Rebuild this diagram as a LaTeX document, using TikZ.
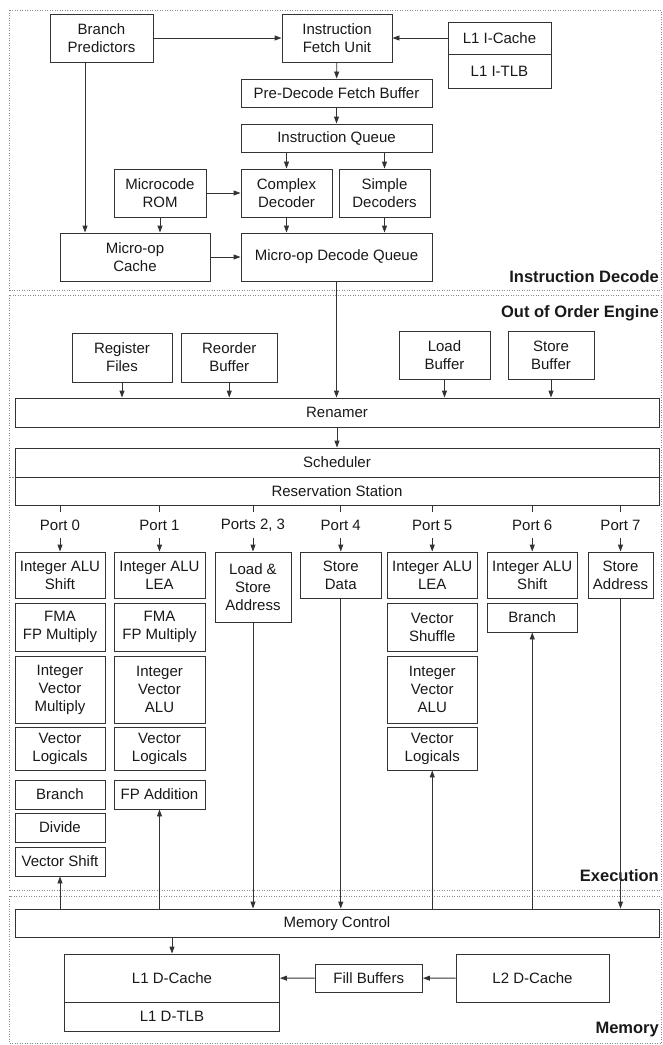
\documentclass[tikz,border=0pt]{standalone}
\usepackage{fontspec}
\setmainfont{Liberation Sans}
\usetikzlibrary{arrows.meta}
\tikzset{
 blk/.style={draw=black!80, line width=0.9pt, fill=white, inner sep=0pt, align=center, font=\fontsize{15}{18}\selectfont, text=black!90},
 arr/.style={draw=black!80, line width=0.9pt, -{Triangle[length=7pt,width=5pt]}},
 ln/.style={draw=black!80, line width=0.9pt},
 frame/.style={draw=black!45, line width=0.8pt, dash pattern=on 1pt off 1.5pt},
 sect/.style={anchor=east, inner sep=0pt, font=\fontsize{16.5}{18}\selectfont\bfseries, text=black!90},
 portlbl/.style={inner sep=0pt, minimum height=26pt, font=\fontsize{15}{18}\selectfont, text=black!90},
}
\newcommand\bx[6]{\node[blk, minimum width={(#4-(#2))*1pt}, minimum height={(#5-(#3))*1pt}] (#1) at ({(#2+#4)/2},{(#3+#5)/2}) {#6};}
\begin{document}
\begin{tikzpicture}[x=1pt,y=-1pt]
\useasboundingbox (0,0) rectangle (662,1045);
% section frames
\draw[frame] (9.5,10) rectangle (661,290.5);
\draw[frame] (9.5,295) rectangle (661,477);
\draw[frame] (9.5,477) rectangle (661,890);
\draw[frame] (9.5,896) rectangle (661,1043.5);
\node[sect] (tID) at (659,277) {Instruction Decode};
\node[sect] (tOO) at (659,313) {Out of Order Engine};
\node[sect] (tEX) at (659,876) {Execution};
\node[sect] (tME) at (659,1030) {Memory};
% instruction decode
\bx{bp}{50}{14}{153}{62}{Branch\\Predictors}
\bx{ifu}{282}{14}{392}{62}{Instruction\\Fetch Unit}
\bx{l1i}{448}{22}{551}{54}{L1 I-Cache}
\bx{l1itlb}{448}{54}{551}{88}{L1 I-TLB}
\bx{pdfb}{241}{79}{432}{107}{Pre-Decode Fetch Buffer}
\bx{iq}{241}{124}{432}{152}{Instruction Queue}
\bx{mrom}{114}{169}{206}{217}{Microcode\\ROM}
\bx{cdec}{241}{169}{332}{217}{Complex\\Decoder}
\bx{sdec}{339}{169}{430}{217}{Simple\\Decoders}
\bx{uopc}{60}{233}{210}{281}{Micro-op\\Cache}
\bx{modq}{241}{233}{432}{281}{Micro-op Decode Queue}
\draw[arr] (bp) -- (ifu);
\draw[arr] (l1i) -- (ifu);
\draw[arr] (ifu) -- (pdfb);
\draw[arr] (pdfb) -- (iq);
\draw[arr] (iq.south -| cdec) -- (cdec);
\draw[arr] (iq.south -| sdec) -- (sdec);
\draw[arr] (mrom) -- (cdec);
\draw[arr] (mrom) -- (mrom.south |- uopc.north);
\draw[arr] ([xshift=-16.5pt]bp.south) -- ([xshift=-16.5pt]bp.south |- uopc.north);
\draw[arr] (cdec) -- (cdec |- modq.north);
\draw[arr] (sdec) -- (sdec |- modq.north);
\draw[arr] (uopc) -- (modq);
% out of order engine
\bx{rf}{72}{333}{172}{382}{Register\\Files}
\bx{rob}{181.5}{333}{277}{382}{Reorder\\Buffer}
\bx{lb}{399}{331}{490}{379}{Load\\Buffer}
\bx{sb}{508}{331}{594}{379}{Store\\Buffer}
\bx{ren}{15}{398}{659}{427}{Renamer}
\bx{sched}{15}{448}{659}{477}{Scheduler}
\bx{rs}{15}{477}{659}{505.5}{Reservation Station}
\draw[arr] (modq) -- (modq |- ren.north);
\draw[arr] (rf) -- (rf |- ren.north);
\draw[arr] (rob) -- (rob |- ren.north);
\draw[arr] (lb) -- (lb |- ren.north);
\draw[arr] (sb) -- (sb |- ren.north);
\draw[arr] (ren) -- (ren.south |- sched.north);
% execution units
\bx{e0a}{15}{552}{105}{598}{Integer ALU\\Shift}
\bx{e0b}{15}{603}{105}{651}{FMA\\FP Multiply}
\bx{e0c}{15}{656}{105}{723}{Integer\\Vector\\Multiply}
\bx{e0d}{15}{727}{105}{770}{Vector\\Logicals}
\bx{e0e}{15}{780}{105}{809}{Branch}
\bx{e0f}{15}{813}{105}{842}{Divide}
\bx{e0g}{15}{847}{105}{876}{Vector Shift}
\bx{e1a}{114}{552}{205}{598}{Integer ALU\\LEA}
\bx{e1b}{114}{603}{205}{651}{FMA\\FP Multiply}
\bx{e1c}{114}{656}{205}{723}{Integer\\Vector\\ALU}
\bx{e1d}{114}{727}{205}{770}{Vector\\Logicals}
\bx{e1e}{114}{780}{205}{809}{FP Addition}
\bx{e23}{215}{552}{291}{622}{Load \&\\Store\\Address}
\bx{e4}{300.5}{552}{381}{598}{Store\\Data}
\bx{e5a}{387}{552}{477.5}{598}{Integer ALU\\LEA}
\bx{e5b}{387}{603}{477.5}{651}{Vector\\Shuffle}
\bx{e5c}{387}{656}{477.5}{723}{Integer\\Vector\\ALU}
\bx{e5d}{387}{727}{477.5}{770}{Vector\\Logicals}
\bx{e6a}{487}{552}{577.5}{598}{Integer ALU\\Shift}
\bx{e6b}{487}{603}{577.5}{632}{Branch}
\bx{e7}{588}{552}{653}{598}{Store\\Address}
% ports
\node[portlbl] (pl0) at (e0a |- 0,525) {Port 0};
\node[portlbl] (pl1) at (e1a |- 0,525) {Port 1};
\node[portlbl] (pl23) at (e23 |- 0,525) {Ports 2, 3};
\node[portlbl] (pl4) at (e4 |- 0,525) {Port 4};
\node[portlbl] (pl5) at (e5a |- 0,525) {Port 5};
\node[portlbl] (pl6) at (e6a |- 0,525) {Port 6};
\node[portlbl] (pl7) at (e7 |- 0,525) {Port 7};
\foreach \p/\b in {pl0/e0a,pl1/e1a,pl23/e23,pl4/e4,pl5/e5a,pl6/e6a,pl7/e7}{
  \draw[ln] (rs.south -| \p) -- (\p.north);
  \draw[arr] (\p.south) -- (\b.north);
}
% memory
\bx{mc}{15}{909}{659}{937.5}{Memory Control}
\bx{l1d}{64.5}{954}{279.5}{1002}{L1 D-Cache}
\bx{l1dtlb}{64.5}{1002}{279.5}{1031}{L1 D-TLB}
\bx{fb}{315}{964}{422.5}{992.5}{Fill Buffers}
\bx{l2d}{456}{954}{609}{1002}{L2 D-Cache}
\draw[arr] (mc.north -| e0g) -- (e0g.south);
\draw[arr] (mc.north -| e1e) -- (e1e.south);
\draw[arr] (e23.south) -- (e23.south |- mc.north);
\draw[arr] (e4.south) -- (e4.south |- mc.north);
\draw[arr] (mc.north -| e5d) -- (e5d.south);
\draw[arr] (mc.north -| e6b) -- (e6b.south);
\draw[arr] (e7.south) -- (e7.south |- mc.north);
\draw[arr] (mc.south -| l1d) -- (l1d.north);
\draw[arr] (l2d) -- (fb);
\draw[arr] (fb) -- (l1d);
\end{tikzpicture}
\end{document}
